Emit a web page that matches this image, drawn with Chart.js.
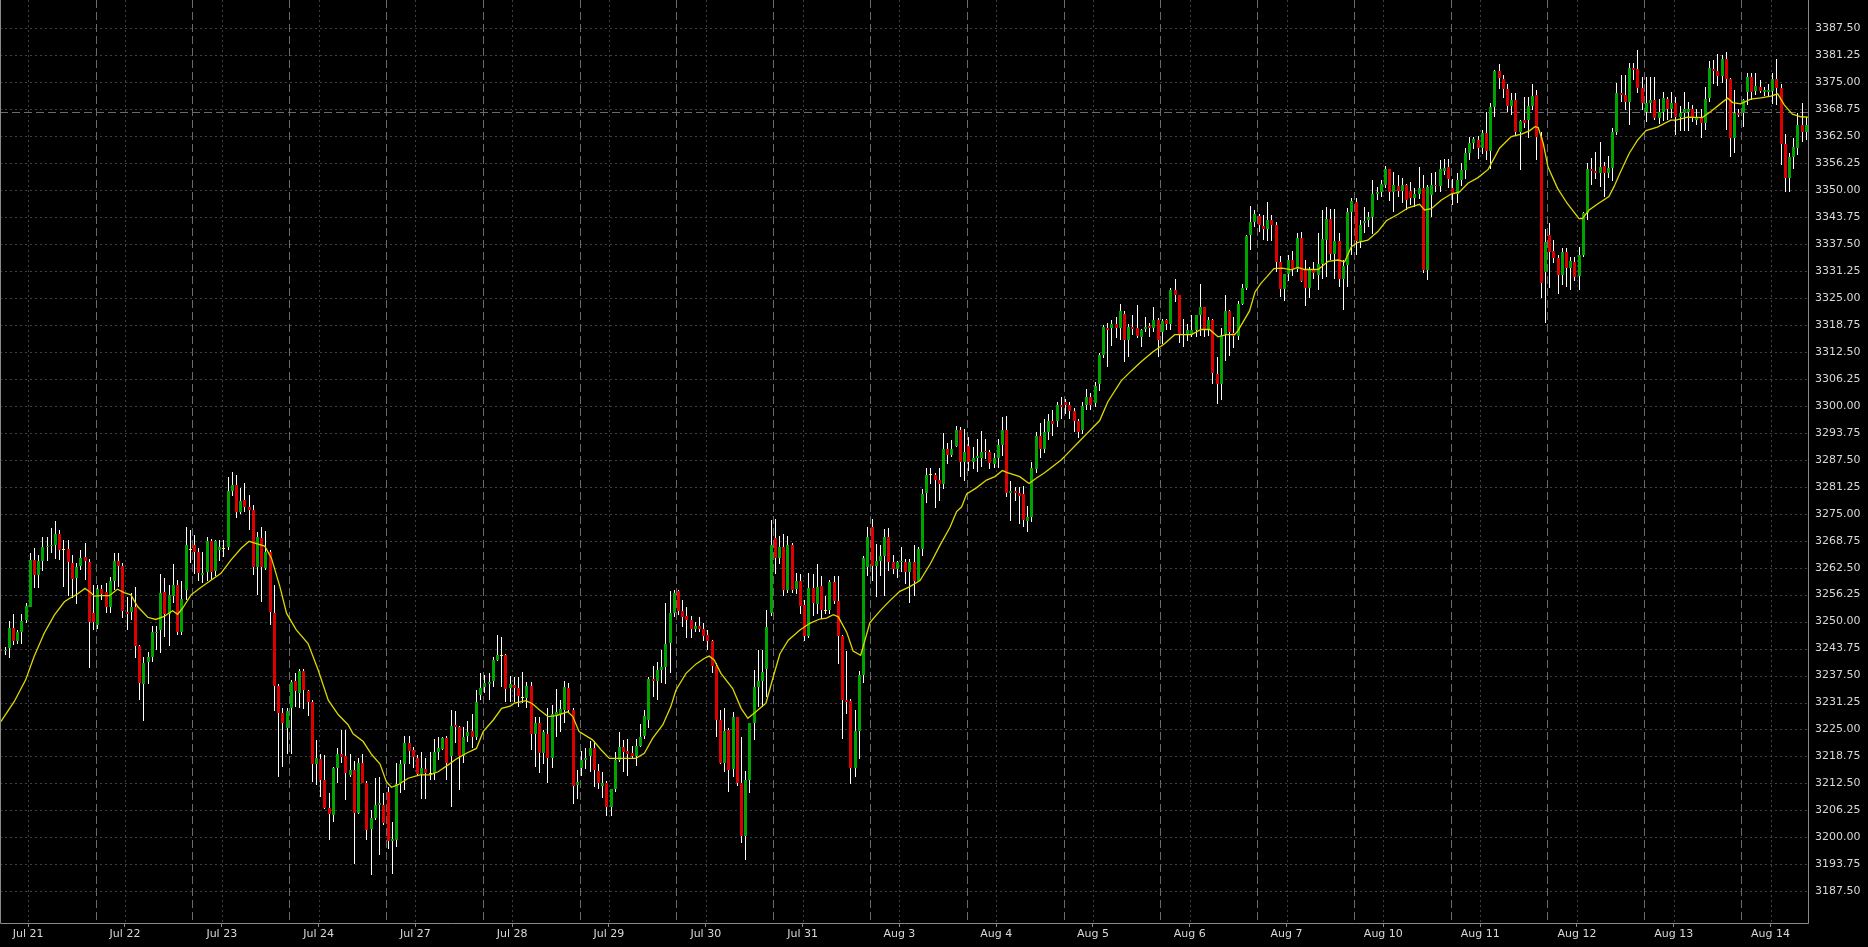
<!DOCTYPE html>
<html>
<head>
<meta charset="utf-8">
<script src="https://cdn.jsdelivr.net/npm/chart.js@4.4.1/dist/chart.umd.min.js"></script>
<style>
html,body{margin:0;padding:0;background:#000;overflow:hidden}
canvas{display:block}
</style>
</head>
<body>
<canvas id="c" width="1868" height="947"></canvas>
<script>
// ---- session / axis labels ----
const DATE_LABELS = ['Jul 21','Jul 22','Jul 23','Jul 24','Jul 27','Jul 28','Jul 29','Jul 30','Jul 31',
  'Aug 3','Aug 4','Aug 5','Aug 6','Aug 7','Aug 10','Aug 11','Aug 12','Aug 13','Aug 14'];
const SESSION_BARS = 23;      // hourly bars per session
const LABEL_BAR0 = 6.5;       // bar position of the first date label
const SESSION_BREAK0 = 22.5;  // bar position of the first session separator
const Y_TICKS = [3187.5,3193.75,3200,3206.25,3212.5,3218.75,3225,3231.25,3237.5,3243.75,3250,3256.25,
  3262.5,3268.75,3275,3281.25,3287.5,3293.75,3300,3306.25,3312.5,3318.75,3325,3331.25,3337.5,3343.75,
  3350,3356.25,3362.5,3368.75,3375,3381.25,3387.5];
const Y_MIN = 3180.15, Y_MAX = 3394.06;
const PRICE_LINE = 3368.0;

// ---- OHLC series (hourly) ----
const OPEN = [
3243.7,3243.1,3243.8,3248.6,3245.5,3247.5,3250.3,3253.5,3264.3,3260.9,
3264.1,3267.2,3267.5,3267.8,3270.2,3266.5,3266.8,3263.6,3260.0,3262.8,
3265.0,3263.8,3251.9,3249.3,3257.6,3256.9,3253.5,3259.3,3264.1,3263.0,
3252.3,3252.3,3253.5,3244.4,3235.6,3240.7,3241.8,3247.3,3248.0,3256.8,
3251.7,3256.0,3258.5,3247.5,3257.3,3266.6,3267.8,3266.1,3260.8,3261.4,
3268.6,3261.8,3266.5,3266.8,3267.4,3280.3,3281.7,3275.5,3278.2,3276.6,
3275.9,3262.6,3269.4,3262.5,3266.1,3251.9,3235.1,3228.9,3225.4,3230.0,
3236.2,3233.5,3238.5,3234.0,3231.4,3216.9,3218.2,3213.3,3206.9,3205.2,
3216.0,3219.4,3218.8,3214.5,3215.6,3205.7,3217.2,3212.7,3202.0,3204.6,
3207.5,3207.5,3210.6,3199.2,3199.4,3212.5,3217.0,3221.8,3220.2,3218.5,
3214.7,3215.8,3214.6,3214.8,3219.8,3220.5,3223.1,3218.8,3226.0,3225.6,
3218.8,3223.5,3224.6,3223.3,3233.0,3234.9,3235.5,3236.2,3241.1,3242.0,
3242.3,3234.6,3235.4,3234.5,3232.4,3232.4,3235.1,3223.9,3226.4,3219.5,
3224.0,3218.3,3228.2,3228.7,3229.5,3234.7,3229.5,3212.2,3216.1,3217.9,
3218.8,3220.6,3215.4,3212.0,3212.5,3207.1,3211.1,3218.0,3220.9,3219.9,
3219.6,3218.9,3221.2,3223.5,3227.2,3236.7,3236.3,3238.8,3239.4,3245.1,
3252.1,3257.0,3252.5,3251.3,3250.4,3248.3,3249.0,3248.4,3246.9,3245.4,
3239.6,3227.2,3217.2,3224.8,3215.8,3227.8,3212.6,3200.4,3213.2,3226.4,
3234.9,3236.3,3238.9,3251.9,3269.3,3264.7,3267.2,3257.4,3267.8,3257.6,
3259.5,3253.9,3246.7,3257.8,3254.1,3258.3,3252.5,3252.8,3259.1,3254.8,
3246.7,3231.9,3231.6,3216.0,3224.7,3237.7,3262.6,3272.0,3262.9,3264.1,
3265.2,3269.5,3263.7,3262.2,3263.7,3263.8,3261.6,3263.8,3259.5,3266.8,
3279.9,3283.9,3284.0,3282.8,3281.9,3290.0,3288.7,3290.6,3294.4,3286.9,
3290.8,3286.9,3287.9,3288.0,3289.6,3289.2,3286.5,3287.9,3291.0,3294.4,
3279.9,3280.3,3279.9,3279.5,3273.4,3274.2,3285.4,3293.0,3290.0,3294.0,
3296.5,3296.6,3300.3,3300.9,3300.1,3298.7,3296.6,3294.5,3300.1,3302.0,
3300.6,3305.1,3311.8,3318.1,3318.0,3318.9,3318.0,3321.3,3315.2,3318.3,
3318.0,3316.0,3317.9,3318.4,3318.0,3320.0,3317.1,3319.8,3318.9,3326.8,
3325.6,3316.5,3316.5,3316.5,3317.5,3321.0,3322.9,3317.9,3320.0,3307.4,
3305.1,3316.7,3322.1,3316.9,3316.3,3323.7,3327.3,3339.5,3342.6,3343.9,
3341.6,3340.9,3343.0,3341.8,3333.3,3327.1,3330.5,3333.9,3331.8,3339.0,
3331.8,3327.4,3331.6,3330.3,3332.9,3338.4,3343.3,3335.2,3338.2,3329.5,
3332.6,3345.0,3347.2,3338.2,3342.3,3343.1,3343.7,3349.1,3349.6,3351.2,
3354.9,3349.6,3350.9,3349.9,3351.2,3349.9,3348.2,3349.2,3350.6,3331.5,
3348.9,3351.2,3350.9,3354.5,3355.4,3350.4,3349.2,3352.3,3354.7,3358.5,
3361.0,3361.6,3359.7,3363.3,3359.1,3369.3,3377.6,3375.7,3373.4,3369.6,
3370.9,3363.5,3366.2,3366.2,3369.6,3372.0,3362.4,3331.0,3339.6,3335.9,
3334.2,3330.3,3335.7,3332.0,3333.4,3330.0,3334.9,3344.6,3354.8,3354.5,
3354.0,3355.6,3353.9,3355.2,3363.4,3372.4,3372.0,3370.5,3378.2,3378.0,
3373.7,3368.1,3370.1,3370.9,3366.6,3368.0,3371.1,3368.8,3370.1,3366.9,
3367.8,3368.0,3368.7,3366.2,3366.6,3365.5,3371.4,3378.0,3377.6,3376.5,
3380.5,3375.7,3362.1,3367.8,3367.9,3372.8,3376.3,3373.0,3374.0,3372.8,
3372.8,3373.0,3375.7,3373.7,3360.7,3352.7,3357.6,3359.8,3365.2,3363.5];

const HIGH = [
3244.5,3244.0,3250.2,3251.7,3248.1,3251.7,3254.2,3265.8,3267.1,3265.5,
3269.7,3269.7,3271.8,3273.3,3271.3,3268.9,3268.9,3265.5,3263.5,3266.6,
3268.2,3264.5,3258.5,3258.5,3258.5,3258.9,3260.4,3266.0,3265.9,3263.5,
3255.8,3256.6,3258.0,3244.6,3241.9,3243.0,3249.0,3248.9,3261.0,3260.0,
3258.5,3263.4,3259.6,3259.5,3271.9,3271.3,3270.1,3267.0,3266.2,3269.6,
3269.1,3268.9,3268.9,3268.9,3283.5,3284.6,3284.0,3281.0,3282.1,3279.3,
3277.0,3270.8,3272.0,3271.0,3266.6,3258.5,3235.6,3229.9,3229.9,3236.4,
3238.0,3238.9,3238.9,3234.1,3231.8,3222.5,3219.4,3219.1,3210.2,3216.3,
3220.6,3224.9,3224.9,3219.4,3217.6,3218.3,3219.4,3213.1,3206.3,3213.7,
3214.1,3210.2,3211.7,3203.6,3217.2,3217.9,3223.5,3223.6,3221.0,3219.1,
3219.8,3218.3,3219.8,3222.9,3223.3,3223.3,3223.5,3229.5,3229.3,3225.9,
3225.6,3226.9,3228.7,3234.1,3238.0,3237.6,3238.0,3241.9,3246.9,3246.5,
3242.5,3237.5,3237.2,3237.2,3238.3,3236.1,3236.1,3228.0,3228.0,3224.9,
3229.9,3230.7,3234.4,3231.8,3236.2,3235.8,3230.0,3215.5,3220.0,3220.8,
3222.4,3222.4,3217.0,3215.1,3213.1,3211.2,3219.7,3224.5,3222.6,3222.8,
3221.2,3222.8,3226.3,3229.5,3237.2,3239.6,3240.7,3243.4,3254.3,3257.2,
3257.4,3257.4,3255.0,3253.5,3251.3,3250.0,3251.1,3249.6,3248.0,3245.8,
3240.5,3229.5,3229.9,3225.3,3229.1,3228.0,3223.3,3215.3,3226.6,3238.8,
3243.4,3243.4,3252.7,3273.6,3273.8,3269.9,3270.3,3269.9,3268.3,3261.2,
3261.1,3255.0,3261.2,3261.0,3263.3,3260.6,3256.0,3259.7,3260.6,3260.5,
3247.0,3243.2,3232.0,3229.4,3238.5,3265.3,3272.0,3273.8,3268.0,3267.8,
3271.4,3271.8,3265.5,3264.1,3267.3,3264.5,3264.5,3267.8,3267.3,3280.7,
3285.7,3285.7,3284.5,3285.7,3293.7,3291.5,3292.1,3295.4,3295.0,3294.6,
3292.7,3290.4,3292.3,3294.2,3292.3,3289.8,3289.0,3292.3,3297.5,3297.7,
3282.6,3281.1,3281.1,3281.5,3276.8,3286.9,3294.0,3296.0,3297.0,3298.0,
3299.0,3301.0,3302.0,3301.5,3300.8,3299.5,3297.0,3301.0,3303.9,3303.0,
3305.5,3312.3,3318.8,3319.3,3319.8,3320.5,3323.5,3321.9,3318.9,3321.0,
3323.3,3317.8,3320.5,3319.1,3322.9,3320.4,3320.2,3320.2,3327.2,3329.5,
3325.7,3320.2,3319.0,3321.0,3321.1,3328.3,3323.0,3320.5,3320.1,3311.3,
3318.0,3325.8,3322.2,3320.6,3324.4,3328.3,3339.5,3346.3,3345.3,3344.5,
3344.2,3347.2,3344.2,3342.5,3334.8,3330.5,3334.9,3336.0,3340.1,3340.2,
3333.8,3332.2,3333.4,3340.0,3345.5,3346.1,3345.6,3345.6,3340.1,3333.8,
3345.8,3348.1,3348.1,3343.1,3346.1,3345.0,3352.3,3350.8,3352.3,3355.6,
3355.0,3354.3,3353.5,3352.7,3351.5,3351.9,3350.5,3355.4,3353.5,3351.2,
3353.9,3354.3,3357.0,3357.3,3357.3,3352.5,3353.9,3356.2,3359.7,3362.2,
3362.2,3362.5,3363.9,3368.2,3370.1,3377.8,3379.2,3376.7,3374.7,3372.4,
3372.4,3366.2,3371.6,3371.6,3374.7,3373.2,3363.5,3341.0,3342.4,3338.4,
3335.0,3336.7,3336.5,3334.5,3334.5,3336.8,3345.0,3356.2,3357.4,3358.9,
3361.2,3356.5,3357.8,3364.4,3374.8,3376.7,3376.7,3379.4,3379.4,3382.4,
3376.3,3376.3,3376.3,3376.3,3371.1,3372.8,3371.5,3372.8,3371.5,3369.5,
3372.8,3370.5,3369.8,3368.7,3368.7,3373.9,3380.0,3380.2,3381.5,3381.2,
3382.1,3376.0,3373.2,3368.8,3371.1,3377.1,3377.1,3377.1,3375.5,3374.0,
3374.5,3377.1,3380.5,3374.5,3363.0,3358.5,3362.0,3367.8,3370.1,3367.0];

const LOW = [
3241.1,3242.3,3241.6,3244.6,3244.8,3244.7,3249.6,3253.3,3257.8,3257.8,
3261.7,3264.1,3266.0,3264.4,3264.3,3258.1,3255.9,3255.4,3254.1,3262.0,
3259.7,3239.2,3248.0,3248.2,3255.0,3252.1,3252.0,3257.3,3258.1,3250.8,
3248.1,3250.4,3241.5,3231.8,3227.0,3235.6,3240.7,3243.4,3242.8,3246.5,
3244.4,3254.2,3246.9,3246.9,3255.0,3263.5,3261.0,3259.3,3258.9,3259.3,
3259.7,3260.6,3264.1,3265.0,3266.5,3279.0,3274.0,3275.0,3275.5,3271.2,
3260.8,3256.2,3254.5,3262.0,3249.1,3229.3,3214.1,3216.4,3219.4,3219.4,
3230.3,3229.9,3229.7,3228.1,3212.9,3212.1,3209.4,3206.5,3199.4,3203.6,
3212.5,3217.2,3208.6,3214.1,3193.9,3205.5,3212.5,3199.4,3191.2,3204.0,
3195.9,3202.8,3197.4,3191.6,3197.8,3210.2,3211.0,3217.0,3216.0,3214.5,
3209.0,3208.8,3213.3,3213.3,3217.9,3220.2,3213.3,3207.1,3221.8,3211.0,
3217.2,3222.2,3220.6,3222.5,3231.8,3233.4,3231.8,3234.9,3240.8,3234.9,
3231.4,3231.4,3231.4,3230.3,3231.1,3229.9,3220.2,3216.4,3214.8,3217.1,
3212.5,3216.1,3223.3,3224.5,3226.4,3228.9,3207.8,3209.0,3214.3,3215.8,
3215.1,3211.6,3211.2,3209.1,3205.0,3205.0,3210.4,3217.4,3215.2,3214.3,
3218.2,3216.6,3220.9,3222.8,3225.3,3232.6,3231.8,3235.7,3235.5,3238.0,
3251.0,3251.5,3248.8,3246.1,3246.1,3247.5,3247.5,3245.5,3243.4,3238.0,
3223.3,3217.1,3215.2,3210.6,3214.1,3211.8,3198.6,3194.8,3210.2,3222.6,
3230.3,3230.3,3232.6,3251.2,3261.0,3263.3,3256.0,3256.6,3256.6,3256.4,
3251.8,3245.4,3246.2,3251.4,3251.8,3250.6,3251.7,3251.7,3254.1,3240.2,
3222.8,3228.5,3212.3,3213.9,3218.2,3235.7,3260.5,3259.5,3255.6,3260.6,
3256.0,3261.8,3261.0,3260.1,3261.6,3258.7,3254.4,3256.0,3259.1,3265.3,
3277.6,3282.0,3276.3,3278.0,3280.7,3286.5,3288.1,3290.4,3283.4,3282.6,
3285.0,3285.4,3284.6,3285.8,3287.7,3285.4,3285.7,3285.7,3288.3,3278.8,
3273.4,3278.0,3272.6,3272.0,3270.7,3273.0,3284.5,3288.0,3289.0,3292.0,
3293.0,3295.0,3297.0,3298.0,3297.0,3294.0,3292.5,3293.5,3299.1,3299.0,
3299.8,3303.5,3311.0,3309.0,3313.9,3315.7,3315.3,3310.1,3311.3,3316.5,
3315.8,3313.6,3317.2,3316.0,3317.1,3311.3,3314.4,3317.5,3317.5,3324.0,
3314.5,3313.6,3315.0,3316.0,3316.0,3316.3,3316.0,3316.3,3305.1,3300.5,
3301.3,3310.3,3311.6,3313.5,3315.2,3323.3,3326.8,3336.2,3341.5,3340.4,
3338.5,3338.2,3338.2,3331.0,3325.2,3324.4,3329.0,3330.0,3331.0,3328.8,
3323.1,3324.9,3329.5,3326.8,3329.5,3329.9,3333.9,3329.3,3327.6,3322.2,
3327.6,3334.9,3334.9,3336.5,3340.1,3341.5,3339.9,3347.7,3348.5,3350.5,
3347.5,3345.0,3348.5,3347.0,3345.5,3346.5,3346.0,3348.0,3330.7,3329.1,
3343.8,3349.5,3349.5,3353.5,3350.4,3346.5,3347.0,3351.0,3352.5,3357.0,
3359.6,3357.3,3358.3,3357.0,3355.0,3367.0,3373.5,3371.3,3368.2,3367.5,
3362.5,3354.6,3364.5,3362.0,3368.5,3357.0,3325.0,3319.3,3327.2,3333.0,
3326.0,3328.0,3327.6,3326.8,3329.0,3326.8,3334.5,3343.0,3351.2,3352.5,
3350.8,3348.5,3352.7,3352.1,3362.8,3370.5,3368.5,3365.1,3375.5,3372.5,
3368.5,3365.8,3367.8,3366.2,3365.4,3366.0,3366.2,3366.8,3362.7,3363.8,
3363.8,3363.8,3365.9,3365.0,3362.0,3363.9,3370.5,3374.5,3374.2,3374.8,
3363.9,3357.7,3358.5,3367.0,3364.6,3369.8,3370.9,3372.0,3372.4,3371.8,
3371.6,3369.9,3369.8,3355.8,3349.6,3349.6,3355.0,3358.1,3361.2,3361.6];

const CLOSE = [
3243.1,3243.5,3248.6,3245.6,3247.6,3250.1,3253.6,3264.3,3260.8,3264.1,
3267.3,3267.6,3267.8,3270.2,3266.7,3266.5,3263.9,3259.9,3262.7,3264.8,
3264.0,3249.8,3249.8,3257.6,3256.5,3253.5,3259.4,3264.1,3263.0,3252.5,
3251.8,3253.5,3244.4,3235.8,3240.5,3241.7,3247.7,3247.7,3256.6,3251.7,
3256.1,3258.5,3247.5,3255.2,3267.8,3266.6,3266.2,3261.2,3261.2,3268.6,
3261.4,3268.6,3267.2,3266.8,3280.3,3281.7,3275.5,3278.0,3276.6,3275.9,
3262.6,3269.6,3262.6,3266.1,3252.3,3235.1,3228.9,3226.4,3229.3,3236.1,
3234.0,3238.5,3234.1,3231.4,3216.9,3218.3,3213.3,3206.9,3205.3,3216.0,
3219.4,3218.7,3214.8,3215.6,3205.7,3217.3,3212.7,3201.8,3204.6,3207.5,
3207.9,3203.4,3199.1,3199.6,3212.3,3216.9,3221.8,3220.0,3218.7,3214.7,
3216.0,3214.8,3214.6,3219.8,3220.6,3223.1,3217.3,3225.9,3225.6,3218.8,
3223.3,3224.5,3223.3,3231.3,3234.7,3235.7,3236.1,3241.1,3242.3,3242.0,
3234.4,3235.5,3234.7,3232.8,3232.4,3235.1,3223.9,3226.4,3219.5,3224.5,
3218.5,3228.7,3229.0,3229.7,3234.9,3229.5,3211.8,3212.8,3217.9,3218.5,
3220.6,3215.7,3212.5,3212.5,3207.1,3211.1,3218.0,3220.9,3219.7,3219.3,
3218.8,3221.2,3223.3,3228.2,3236.7,3236.3,3238.8,3239.4,3244.8,3252.1,
3256.6,3252.5,3251.1,3250.4,3248.3,3249.0,3248.4,3246.7,3245.4,3239.6,
3227.2,3217.3,3224.7,3215.6,3227.8,3212.6,3200.4,3213.2,3226.4,3234.9,
3236.2,3238.4,3248.8,3267.8,3264.7,3267.4,3257.4,3267.8,3257.4,3259.5,
3253.7,3246.7,3257.8,3254.3,3258.1,3252.8,3252.5,3259.1,3254.8,3246.6,
3231.9,3231.4,3216.0,3224.7,3237.7,3264.7,3269.5,3263.0,3264.1,3265.2,
3269.5,3263.7,3262.2,3263.7,3264.1,3261.4,3263.8,3259.5,3266.8,3279.5,
3284.0,3283.9,3282.8,3281.9,3290.0,3288.7,3290.0,3294.4,3286.9,3289.2,
3286.9,3287.9,3288.4,3289.4,3289.2,3286.7,3287.9,3291.0,3294.3,3279.9,
3280.3,3279.9,3279.2,3273.5,3274.3,3285.7,3293.1,3290.0,3294.0,3296.5,
3295.8,3300.3,3299.8,3300.1,3298.9,3296.6,3294.0,3299.9,3302.0,3300.3,
3304.7,3311.8,3318.3,3317.6,3318.9,3318.0,3321.9,3315.2,3318.3,3317.9,
3316.1,3317.6,3318.3,3318.0,3320.0,3315.3,3319.6,3318.9,3326.8,3325.6,
3316.5,3316.5,3317.5,3317.5,3321.0,3322.9,3317.9,3320.0,3307.6,3305.1,
3316.5,3322.1,3317.1,3316.3,3323.5,3327.4,3339.3,3342.6,3344.5,3341.8,
3340.9,3343.0,3341.8,3333.3,3327.1,3330.5,3333.7,3331.8,3338.8,3329.0,
3327.4,3331.6,3330.7,3332.9,3338.6,3343.3,3335.2,3338.2,3329.5,3332.5,
3345.0,3347.5,3338.2,3341.8,3342.8,3343.7,3349.1,3349.6,3351.4,3354.9,
3349.6,3351.2,3349.9,3351.2,3347.7,3348.2,3349.2,3350.6,3331.5,3350.8,
3351.2,3350.9,3354.9,3355.2,3352.5,3349.2,3352.3,3354.7,3358.5,3361.0,
3361.8,3359.7,3363.3,3359.1,3369.3,3377.6,3375.9,3373.4,3369.6,3370.9,
3363.5,3366.0,3365.6,3369.6,3371.9,3362.4,3328.4,3338.0,3335.7,3334.2,
3330.3,3335.7,3332.0,3333.6,3329.8,3334.9,3344.6,3355.0,3354.5,3354.0,
3355.4,3353.9,3355.2,3363.4,3372.4,3372.0,3370.5,3378.2,3377.8,3373.7,
3370.3,3370.3,3370.9,3366.6,3368.0,3371.3,3368.8,3370.1,3366.9,3367.8,
3368.7,3368.7,3366.6,3366.6,3365.5,3371.1,3378.2,3377.6,3376.5,3380.4,
3375.7,3362.1,3367.9,3367.4,3370.9,3376.3,3372.8,3374.2,3373.0,3373.2,
3373.2,3375.7,3373.7,3360.7,3352.7,3357.6,3360.1,3365.2,3363.5,3365.2];

// ---- moving average (at these bar positions) ----
const MA_BARS = [0,3.2,5.9,7.9,10.3,12.7,15.1,16.2,18.2,20,21.4,22.2,23.8,25.8,27.7,29.3,30.9,32.5,34.9,36.8,
38.8,40.8,42,43.2,45.2,47.5,49.5,52.3,54.7,57.1,59,60.7,62.7,64.3,66.3,67.9,70.2,73,75.4,77.8,
80.2,82.5,83.7,86.1,88.1,90.1,91.6,92.8,94.4,96.8,99.6,102,103.9,106.3,108.3,110.6,113,114.6,117,119,
121,122,124.8,126.4,128,130,132,134.7,135.9,137.4,140.6,142.6,144.6,147.7,150.9,152.9,154.9,157.3,159.2,160.4,
162.8,165.2,167.2,168.3,169.5,171.1,173.9,175.9,177.5,179.4,181.8,183.5,185.1,187.1,189.8,192.2,194.6,196.2,197.8,199,
201,202.5,204.3,205.3,206.5,208.9,211.2,213.6,216,218.4,220.8,223.1,225.5,227.1,228.3,229.5,231.8,234.2,236.2,238,
239,242.1,244.3,246.1,248,250,252,254,256,258,260,261.1,263,266.2,268.6,271,273.7,276.5,278.9,282.9,
285.2,287.2,289.2,291.2,293.2,294,296.7,298,299.4,300.9,302.5,304.5,306.6,308.2,309.8,313,315.4,317.7,319.3,320.9,
322.5,324.8,327.2,329.2,332,334.4,337.1,338.3,339.9,342.3,344.6,346.6,348.6,351,353.4,356.1,358.9,361.3,363.3,364.5,
365.3,366.5,367.6,369.9,372.2,375,375.8,377.4,379.4,382.1,383.3,384.9,386.9,388.9,390.9,393.6,396.8,398,400.8,404.3,
406.3,408.7,410.3,411.5,413.4,415.8,418.2,420.6,422.2,423.8,425.7,427.7,429.4];
const MA_VALUES = [3226.8,3231.5,3236.5,3241.9,3247.3,3251.5,3254.6,3255.3,3256.4,3257.7,3256.7,3255.9,3256,3256,3257.5,3256.7,3256.2,3253.5,3251,3250.5,
3251.2,3252.5,3251.7,3253.1,3256.2,3257.9,3259.3,3261.2,3264.3,3267,3268.6,3268.1,3267.5,3264.7,3258.1,3251.9,3248.1,3244.9,3238.8,3231.8,
3228.4,3226.1,3224,3222.2,3219.2,3217,3212.9,3211.6,3212.2,3213.7,3214.5,3214.5,3215.2,3216.8,3218.2,3219.5,3220.6,3224.5,3227.2,3229.9,
3230.4,3231.1,3231.7,3230.9,3229.5,3228,3228.2,3229.1,3228,3224.5,3222.6,3220.3,3218.3,3218.3,3218.3,3219.5,3223,3226.1,3230.3,3234.1,
3238,3240.2,3241.5,3242,3241.1,3238,3234.5,3229.9,3227.6,3229.1,3231.1,3237.1,3242.5,3245.7,3248,3249.6,3250.6,3250.8,3251.6,3251.1,
3247.5,3243.2,3242.2,3245.6,3249.8,3252.5,3254.8,3257,3258.1,3259.5,3263.3,3267.6,3271.8,3275.5,3276.6,3279.6,3281,3282.8,3283.6,3285,
3284.6,3283.6,3282,3283.3,3284.5,3286,3287.5,3289.5,3291.5,3293.5,3295.5,3296.6,3300.9,3305.8,3308.1,3310.3,3312.5,3314.4,3316.5,3316.5,
3317.7,3317.7,3316,3316.5,3316.5,3317.5,3322,3326.4,3328.4,3330,3331.8,3331.9,3331.5,3332.1,3331.6,3331.6,3333.5,3333.8,3333.4,3336.9,
3337.9,3338.4,3340.4,3342.9,3344.4,3345.9,3346.7,3345.4,3345.7,3347.7,3349.1,3349.6,3351.6,3352.9,3354.8,3359.7,3362.4,3363,3363.8,3364.7,
3364.5,3360.8,3355.4,3350.4,3346.9,3343.4,3343.4,3345.4,3346.8,3348.5,3350.8,3354.3,3358.5,3361.6,3363.8,3364.6,3366.2,3366.2,3366.9,3366.8,
3368.2,3370.1,3371.3,3370.3,3370,3371.1,3371.4,3371.8,3372.3,3369.7,3367.6,3367,3366.9];

// ---- styling ----
const C_UP = '#00a400', C_DOWN = '#dc0000', C_DOJI = '#ffff00', C_WICK = '#ffffff', C_MA = '#dcd800';
const C_TEXT = '#d8d8d8', C_FRAME = '#8a8a8a', C_GRID_DOT = '#404040', C_GRID_DASH = '#6a6a6a';

const idx = OPEN.map((_, i) => i);
const wickData = idx.map(i => ({x: i, y: [LOW[i], HIGH[i]]}));
const bodyData = idx.map(i => ({x: i, y: [OPEN[i], CLOSE[i]]}));
const maData = MA_BARS.map((b, i) => ({x: b, y: MA_VALUES[i]}));

// snap candle elements to whole pixels so bodies and wicks render crisp
const snapPlugin = {
  id: 'pixelSnap',
  afterDatasetsUpdate(chart) {
    [1, 2].forEach(di => {
      chart.getDatasetMeta(di).data.forEach(el => {
        el.x = Math.floor(el.x) + 0.5;
        let top = Math.round(Math.min(el.y, el.base));
        let bot = Math.round(Math.max(el.y, el.base));
        if (bot - top < 1) bot = top + 1;
        el.y = top; el.base = bot;
      });
    });
  }
};

const gridPlugin = {
  id: 'terminalGrid',
  beforeDatasetsDraw(chart) {
    const {ctx, chartArea: a, scales: {x, y}} = chart;
    const line = (x1, y1, x2, y2) => { ctx.beginPath(); ctx.moveTo(x1, y1); ctx.lineTo(x2, y2); ctx.stroke(); };
    ctx.save();
    ctx.lineWidth = 1;
    ctx.strokeStyle = C_GRID_DOT;
    ctx.setLineDash([2, 3]);
    Y_TICKS.forEach(v => { const py = Math.round(y.getPixelForValue(v)) + 0.5; line(a.left, py, a.right, py); });
    DATE_LABELS.forEach((_, k) => {
      const px = Math.round(x.getPixelForValue(LABEL_BAR0 + k * SESSION_BARS)) + 0.5;
      line(px, a.top, px, a.bottom);
    });
    ctx.strokeStyle = C_GRID_DASH;
    ctx.setLineDash([8, 4]);
    for (let b = SESSION_BREAK0; b < x.max; b += SESSION_BARS) {
      const px = Math.round(x.getPixelForValue(b)) + 0.5;
      line(px, a.top, px, a.bottom);
    }
    const py = Math.round(y.getPixelForValue(PRICE_LINE)) + 0.5;
    line(a.left, py, a.right, py);
    ctx.restore();
  },
  afterDraw(chart) {
    const {ctx, chartArea: a} = chart;
    ctx.save();
    ctx.strokeStyle = C_FRAME;
    ctx.lineWidth = 1;
    ctx.beginPath();
    ctx.moveTo(0.5, a.top); ctx.lineTo(0.5, a.bottom + 0.5);
    ctx.lineTo(Math.round(a.right) + 0.5, a.bottom + 0.5);
    ctx.lineTo(Math.round(a.right) + 0.5, a.top);
    ctx.stroke();
    ctx.restore();
  }
};

Chart.defaults.font.family = 'DejaVu Sans';
Chart.defaults.font.size = 11;

new Chart(document.getElementById('c'), {
  type: 'bar',
  data: {
    datasets: [
      { type: 'line', label: 'MA', data: maData, borderColor: C_MA, borderWidth: 1.3,
        pointRadius: 0, tension: 0, fill: false, order: 0 },
      { label: 'body', data: bodyData, grouped: false, barThickness: 3, minBarLength: 1,
        inflateAmount: 0, borderWidth: 0, order: 1,
        backgroundColor: c => { const i = c.dataIndex; return CLOSE[i] > OPEN[i] ? C_UP : (CLOSE[i] < OPEN[i] ? C_DOWN : C_DOJI); } },
      { label: 'wick', data: wickData, grouped: false, barThickness: 1, inflateAmount: 0,
        borderWidth: 0, order: 2, backgroundColor: C_WICK }
    ]
  },
  options: {
    responsive: false, animation: false, devicePixelRatio: 1, events: [],
    layout: { padding: 0, autoPadding: false },
    plugins: { legend: { display: false }, tooltip: { enabled: false } },
    scales: {
      x: {
        type: 'linear', min: -0.2, max: 429.4, offset: false,
        grid: { display: true, drawOnChartArea: false, drawTicks: true, tickLength: 4, color: C_FRAME, offset: false },
        border: { display: false },
        afterBuildTicks: s => { s.ticks = DATE_LABELS.map((_, k) => ({value: LABEL_BAR0 + k * SESSION_BARS})); },
        ticks: { autoSkip: false, maxRotation: 0, minRotation: 0, color: C_TEXT, padding: 1,
          callback: (v, i) => DATE_LABELS[i] },
        afterFit: s => { s.height = 24; s.paddingLeft = 0; s.paddingRight = 0; }
      },
      y: {
        type: 'linear', position: 'right', min: Y_MIN, max: Y_MAX, beginAtZero: false,
        grid: { display: false, drawTicks: false },
        border: { display: false },
        afterBuildTicks: s => { s.ticks = Y_TICKS.map(v => ({value: v})); },
        ticks: { color: C_TEXT, padding: 7, callback: v => Number(v).toFixed(2) },
        afterFit: s => { s.width = 60; s.paddingTop = 0; s.paddingBottom = 0; }
      }
    }
  },
  plugins: [snapPlugin, gridPlugin]
});
</script>
</body>
</html>
